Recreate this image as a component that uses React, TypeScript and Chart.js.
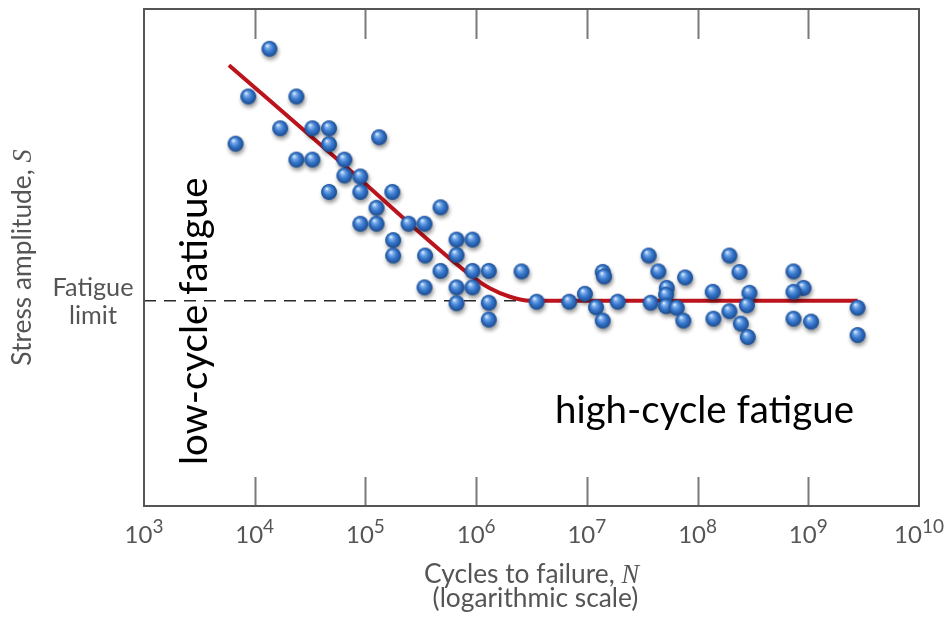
import React, { useEffect, useRef } from "react";
import { Chart, registerables } from "chart.js";

Chart.register(...registerables);

// ---- data ----
const cycles = [
  1.36e4, 8.75e3, 2.38e4, 6.72e3, 1.7e4, 3.32e4, 4.69e4, 4.69e4, 1.33e5, 2.38e4,
  3.32e4, 6.46e4, 6.46e4, 9.0e4, 4.69e4, 9.0e4, 1.75e5, 1.26e5, 4.77e5, 9.0e4,
  1.26e5, 2.45e5, 3.42e5, 1.78e5, 1.78e5, 6.65e5, 9.27e5, 3.46e5, 6.65e5, 4.77e5,
  9.27e5, 1.3e6, 3.42e5, 6.65e5, 9.27e5, 6.65e5, 1.3e6, 1.3e6,
  2.57e6, 3.52e6, 6.93e6, 9.6e6, 1.21e7, 1.39e7, 1.39e7, 1.43e7, 1.9e7, 3.62e7,
  4.42e7, 7.71e7, 3.77e7, 5.27e7, 5.19e7, 5.19e7, 6.49e7, 7.44e7,
  1.94e8, 2.39e8, 1.37e8, 2.94e8, 2.79e8, 1.94e8, 1.39e8, 2.46e8, 2.84e8,
  7.35e8, 9.06e8, 7.35e8, 7.35e8, 1.06e9, 2.79e9, 2.79e9,
];
const stress = [
  92, 82.4, 82.4, 72.9, 76, 76, 76, 72.8, 74.2, 69.7,
  69.7, 69.7, 66.5, 66.3, 63.2, 63.2, 63.2, 60, 60.1, 56.8,
  56.8, 56.8, 56.8, 53.5, 50.4, 53.6, 53.6, 50.4, 50.5, 47.3,
  47.3, 47.3, 44, 44, 44, 40.8, 40.9, 37.5,
  47.2, 41.1, 41.1, 42.7, 40, 37.3, 47.1, 46.2, 41.1, 50.4,
  47.2, 46, 40.9, 43.9, 42.5, 40.2, 39.9, 37.3,
  50.4, 47.1, 43.1, 42.9, 40.4, 39.2, 37.7, 36.7, 34,
  47.2, 43.9, 43.1, 37.7, 37.1, 39.9, 34.4,
];
const curveCycles = [5.85e3, 7.2e4, 8.8e5, 1.33e6, 2.02e6, 3.06e6, 2.79e9];
const curveStress = [88.7, 67.6, 46.5, 43.8, 42.1, 41.3, 41.3];
const fatigueLimit = 41.3;
const dashedCycles = [1e3, 3.06e6];
const xMinCycles = 1e3;
const xMaxCycles = 1e10;
const yMinStress = 0;
const yMaxStress = 100;
const decadeExponents = [3, 4, 5, 6, 7, 8, 9, 10];
const xTitle = "Cycles to failure, ";
const xTitleVar = "N";
const xSubtitle = "(logarithmic scale)";
const yTitle = "Stress amplitude, ";
const yTitleVar = "S";
const limitLabel = ["Fatigue", "limit"];
const lowLabel = "low-cycle fatigue";
const highLabel = "high-cycle fatigue";

const SANS = "Lato, 'Liberation Sans', sans-serif";
const SERIF = "'Liberation Serif', 'DejaVu Serif', serif";
const AXIS_GRAY = "#555555";

function makeSphere(): HTMLCanvasElement {
  const c = document.createElement("canvas");
  c.width = 32;
  c.height = 32;
  const g = c.getContext("2d")!;
  const cx = 16, cy = 16, r = 7.8;
  g.save();
  g.shadowColor = "rgba(0,0,0,0.45)";
  g.shadowBlur = 4;
  g.shadowOffsetX = 1;
  g.shadowOffsetY = 3;
  g.fillStyle = "#1f56a0";
  g.beginPath();
  g.arc(cx, cy, r, 0, Math.PI * 2);
  g.fill();
  g.restore();
  const grad = g.createRadialGradient(cx - 2.4, cy - 3.4, 0.4, cx, cy, r);
  grad.addColorStop(0, "#e2f0ff");
  grad.addColorStop(0.22, "#7fb0ea");
  grad.addColorStop(0.55, "#3a7ad0");
  grad.addColorStop(1, "#1a4b90");
  g.fillStyle = grad;
  g.beginPath();
  g.arc(cx, cy, r, 0, Math.PI * 2);
  g.fill();
  return c;
}

function fitSize(ctx: CanvasRenderingContext2D, text: string, family: string, target: number, style = "normal") {
  ctx.font = `${style} 100px ${family}`;
  const w = ctx.measureText(text).width;
  return (100 * target) / w;
}

const decorPlugin = {
  id: "decor",
  beforeDatasetsDraw(chart: any) {
    const { ctx, chartArea } = chart;
    const xs = chart.scales.x;
    const { top, bottom } = chartArea;
    ctx.save();
    ctx.strokeStyle = "#7a7a7a";
    ctx.lineWidth = 2;
    decadeExponents.forEach((e) => {
      const v = Math.pow(10, e);
      if (v <= xMinCycles || v >= xMaxCycles) return;
      const x = Math.round(xs.getPixelForValue(v)) + 0.5;
      ctx.beginPath();
      ctx.moveTo(x, bottom);
      ctx.lineTo(x, bottom - 29);
      ctx.moveTo(x, top);
      ctx.lineTo(x, top + 30);
      ctx.stroke();
    });
    ctx.restore();
  },
  afterDraw(chart: any) {
    const { ctx, chartArea } = chart;
    const xs = chart.scales.x;
    const ys = chart.scales.y;
    const { left, right, top, bottom } = chartArea;
    ctx.save();
    // frame
    ctx.strokeStyle = "#555";
    ctx.lineWidth = 2;
    ctx.strokeRect(left, top, right - left, bottom - top);

    // tick labels 10^n
    const baseSize = 24;
    const expSize = 19;
    ctx.fillStyle = AXIS_GRAY;
    ctx.textBaseline = "alphabetic";
    ctx.textAlign = "left";
    decadeExponents.forEach((e) => {
      const x = xs.getPixelForValue(Math.pow(10, e));
      ctx.font = `normal ${baseSize}px ${SANS}`;
      const wb = ctx.measureText("10").width;
      ctx.font = `normal ${expSize}px ${SANS}`;
      const we = ctx.measureText(String(e)).width;
      const start = x - (wb + we) / 2;
      ctx.font = `normal ${baseSize}px ${SANS}`;
      ctx.fillText("10", start, bottom + 37);
      ctx.font = `normal ${expSize}px ${SANS}`;
      ctx.fillText(String(e), start + wb, bottom + 27);
    });

    // x title
    ctx.font = `normal 100px ${SANS}`;
    const w1 = ctx.measureText(xTitle).width;
    ctx.font = `italic 100px ${SERIF}`;
    const w2 = ctx.measureText(xTitleVar).width;
    const tSize = (100 * 215) / (w1 + w2);
    ctx.font = `normal ${tSize}px ${SANS}`;
    const a = ctx.measureText(xTitle).width;
    ctx.font = `italic ${tSize}px ${SERIF}`;
    const b = ctx.measureText(xTitleVar).width;
    const cx = (left + right) / 2;
    const sx = cx - (a + b) / 2;
    ctx.font = `normal ${tSize}px ${SANS}`;
    ctx.fillText(xTitle, sx, bottom + 77);
    ctx.font = `italic ${tSize}px ${SERIF}`;
    ctx.fillText(xTitleVar, sx + a, bottom + 77);
    ctx.font = `normal ${tSize}px ${SANS}`;
    ctx.textAlign = "center";
    ctx.fillText(xSubtitle, cx + 4, bottom + 101);

    // y title (rotated)
    ctx.save();
    ctx.font = `normal ${tSize}px ${SANS}`;
    const ya = ctx.measureText(yTitle).width;
    ctx.font = `italic ${tSize}px ${SERIF}`;
    const yb = ctx.measureText(yTitleVar).width;
    ctx.translate(31, (top + bottom) / 2);
    ctx.rotate(-Math.PI / 2);
    ctx.textAlign = "left";
    ctx.font = `normal ${tSize}px ${SANS}`;
    ctx.fillText(yTitle, -(ya + yb) / 2, 0);
    ctx.font = `italic ${tSize}px ${SERIF}`;
    ctx.fillText(yTitleVar, -(ya + yb) / 2 + ya, 0);
    ctx.restore();

    // fatigue limit label
    const py = ys.getPixelForValue(fatigueLimit);
    const fSize = fitSize(ctx, limitLabel[0], SANS, 81);
    ctx.font = `normal ${fSize}px ${SANS}`;
    ctx.textAlign = "center";
    ctx.fillText(limitLabel[0], 93, py - 4.5);
    ctx.fillText(limitLabel[1], 93, py + 23);

    // annotations
    const aSize = fitSize(ctx, highLabel, SANS, 299);
    ctx.fillStyle = "#000";
    ctx.font = `normal ${aSize}px ${SANS}`;
    ctx.textAlign = "left";
    ctx.fillText(highLabel, 555, 423);
    ctx.save();
    ctx.translate(207, 465);
    ctx.rotate(-Math.PI / 2);
    ctx.fillText(lowLabel, 0, 0);
    ctx.restore();

    ctx.restore();
  },
};

export default function App() {
  const ref = useRef<HTMLCanvasElement>(null);
  useEffect(() => {
    document.body.style.margin = "0";
    const canvas = ref.current!;
    const sphere = makeSphere();
    const points = cycles.map((c, i) => ({ x: c, y: stress[i] }));
    const curve = curveCycles.map((c, i) => ({ x: c, y: curveStress[i] }));
    const dashed = dashedCycles.map((c) => ({ x: c, y: fatigueLimit }));
    const chart = new Chart(canvas, {
      type: "scatter",
      data: {
        datasets: [
          {
            label: "data",
            data: points,
            pointStyle: sphere as any,
            pointRadius: 8,
            pointHoverRadius: 8,
            showLine: false,
            order: 0,
          },
          {
            label: "curve",
            data: curve,
            showLine: true,
            borderColor: "#bb141c",
            borderWidth: 4,
            pointRadius: 0,
            cubicInterpolationMode: "monotone",
            order: 1,
          } as any,
          {
            label: "limit",
            data: dashed,
            showLine: true,
            borderColor: "#2a2a2a",
            borderWidth: 1.6,
            borderDash: [12, 8],
            pointRadius: 0,
            order: 2,
          } as any,
        ],
      },
      options: {
        responsive: false,
        animation: false,
        devicePixelRatio: 1,
        layout: { padding: { left: 144, top: 6, right: 29, bottom: 113 } },
        plugins: { legend: { display: false }, tooltip: { enabled: false } },
        events: [],
        scales: {
          x: { type: "logarithmic", min: xMinCycles, max: xMaxCycles, display: false },
          y: { type: "linear", min: yMinStress, max: yMaxStress, display: false },
        },
      },
      plugins: [decorPlugin],
    });
    return () => chart.destroy();
  }, []);
  return (
    <canvas
      ref={ref}
      width={948}
      height={619}
      style={{ display: "block", width: 948, height: 619, background: "#fff" }}
    />
  );
}
